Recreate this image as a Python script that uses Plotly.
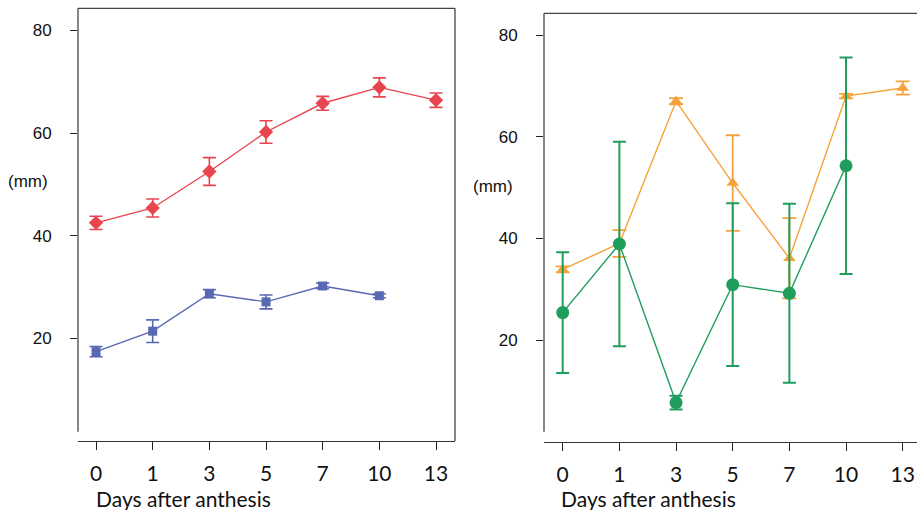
import plotly.graph_objects as go

days = ["0", "1", "3", "5", "7", "10", "13"]

# Left panel
red_y = [42.5, 45.4, 52.5, 60.2, 65.8, 68.9, 66.4]
red_err = [1.3, 1.75, 2.7, 2.2, 1.35, 1.85, 1.4]
blue_days = ["0", "1", "3", "5", "7", "10"]
blue_y = [17.4, 21.4, 28.7, 27.1, 30.2, 28.3]
blue_err = [1.0, 2.2, 0.8, 1.35, 0.55, 0.4]

# Right panel
orange_y = [33.9, 39.0, 67.0, 50.9, 36.1, 68.0, 69.6]
orange_err = [0.6, 2.65, 0.6, 9.4, 7.9, 0.45, 1.3]
green_days = ["0", "1", "3", "5", "7", "10"]
green_y = [25.4, 38.9, 7.7, 30.9, 29.2, 54.3]
green_err = [11.9, 20.1, 1.35, 16.0, 17.6, 21.3]

yticks = [20, 40, 60, 80]
ylabel = "(mm)"
xlabel = "Days after anthesis"

RED = "#E9454E"
BLUE = "#5868B2"
ORANGE = "#F6A23A"
GREEN = "#1F9D5C"

fig = go.Figure()

def add_series(x, y, err, color, symbol, size, xa, ya, lw=1.4, ew=1.6, cap=6.5):
    fig.add_trace(go.Scatter(
        x=x, y=y, mode="lines+markers",
        line=dict(color=color, width=lw),
        marker=dict(symbol=symbol, size=size, color=color, line=dict(width=0)),
        error_y=dict(type="data", array=err, visible=True, color=color,
                     thickness=ew, width=cap),
        xaxis=xa, yaxis=ya, showlegend=False, cliponaxis=False,
    ))

add_series(days, red_y, red_err, RED, "diamond", 11, "x", "y")
add_series(blue_days, blue_y, blue_err, BLUE, "square", 9, "x", "y")
add_series(days, orange_y, orange_err, ORANGE, "triangle-up", 11, "x2", "y2", ew=1.8, cap=7)
add_series(green_days, green_y, green_err, GREEN, "circle", 13, "x2", "y2", ew=2.0, cap=6.5)

W, H = 917, 510
axis_line = "#333333"
num_font = dict(family="Liberation Sans, Arial", size=17, color="#111111")
cat_font = dict(family="Lato", size=21, color="#111111")

common_x = dict(type="category", categoryorder="array", categoryarray=days,
                showgrid=False, zeroline=False, showline=True, linecolor=axis_line,
                linewidth=1.3, ticks="outside", ticklen=8, tickwidth=1.3,
                tickcolor="#222222", tickfont=cat_font, ticklabelstandoff=6)
common_y = dict(showgrid=False, zeroline=False, showline=False, ticks="outside",
                ticklen=7, tickwidth=1.3, tickcolor="#222222", tickvals=yticks,
                tickfont=num_font, ticklabelstandoff=15, range=[0, 84.3])

fig.update_layout(
    width=W, height=H, margin=dict(l=0, r=0, t=0, b=0),
    paper_bgcolor="white", plot_bgcolor="white",
    xaxis=dict(domain=[78 / W, 455 / W], range=[-0.318, 6.335], anchor="y", **common_x),
    yaxis=dict(domain=[(H - 441) / H, (H - 8.3) / H], anchor="x", **common_y),
    xaxis2=dict(domain=[544 / W, 1.0], range=[-0.33, 6.252], anchor="y2", **common_x),
    yaxis2=dict(domain=[(H - 441.7) / H, (H - 13.3) / H], anchor="x2", **common_y),
)

frame = "#444444"
for xr, yr, gap in [("x domain", "y domain", 0.0215), ("x2 domain", "y2 domain", 0.0233)]:
    fig.add_shape(type="line", xref=xr, yref=yr, x0=0, x1=0, y0=gap, y1=1,
                  line=dict(color=frame, width=1.3))
    fig.add_shape(type="line", xref=xr, yref=yr, x0=0, x1=1, y0=1, y1=1,
                  line=dict(color=frame, width=1.3))
fig.add_shape(type="line", xref="x domain", yref="y domain", x0=1, x1=1, y0=0, y1=1,
              line=dict(color=frame, width=1.3))

# axis titles
title_font = dict(family="Liberation Sans, Arial", size=17, color="#111111")
fig.add_annotation(text=ylabel, x=28 / W, y=(H - 181.7) / H, xref="paper", yref="paper",
                   xanchor="center", yanchor="middle", showarrow=False, font=title_font)
fig.add_annotation(text=ylabel, x=493 / W, y=(H - 186.7) / H, xref="paper", yref="paper",
                   xanchor="center", yanchor="middle", showarrow=False, font=title_font)
fig.add_annotation(text=xlabel, x=94 / W, y=(H - 498) / H, xref="paper", yref="paper",
                   xanchor="left", yanchor="middle", showarrow=False, font=cat_font)
fig.add_annotation(text=xlabel, x=559 / W, y=(H - 498) / H, xref="paper", yref="paper",
                   xanchor="left", yanchor="middle", showarrow=False, font=cat_font)

fig.write_html("out.html", config={"displayModeBar": False},
               post_script="document.body.style.margin='0';document.body.style.overflow='hidden';")
